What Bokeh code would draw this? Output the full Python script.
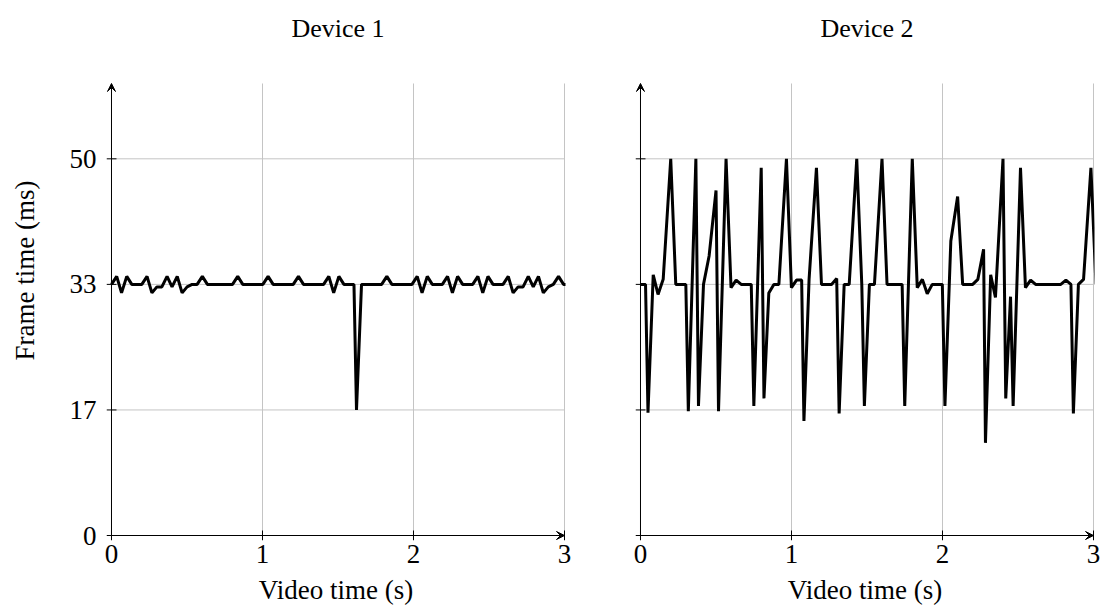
import numpy as np
from bokeh.plotting import figure
from bokeh.layouts import row
from bokeh.models import (ColumnDataSource, Arrow, VeeHead, Range1d, Label,
                          NumeralTickFormatter)
from bokeh.embed import file_html
from bokeh.resources import INLINE

# ---- data (frame durations in ms) ----
TITLES = ["Device 1", "Device 2"]
X_LABEL = "Video time (s)"
Y_LABEL = "Frame time (ms)"
X_TICKS = [0, 1, 2, 3]
Y_TICKS = [0, 16.667, 33.333, 50]
X_MAX = 3
Y_MAX = 60

DEV1_MS = [
    33.33, 34.4, 32.2, 34.4, 33.33, 33.33, 33.33, 34.4, 32.2, 33.0,
    33.0, 34.4, 33.0, 34.4, 32.2, 33.0, 33.33, 33.33, 34.4, 33.33,
    33.33, 33.33, 33.33, 33.33, 33.33, 34.4, 33.33, 33.33, 33.33, 33.33,
    33.33, 34.4, 33.33, 33.33, 33.33, 33.33, 33.33, 34.4, 33.33, 33.33,
    33.33, 33.33, 33.33, 34.4, 32.2, 34.4, 33.33, 33.33, 33.33, 16.67,
    33.33, 33.33, 33.33, 33.33, 33.33, 34.4, 33.33, 33.33, 33.33, 33.33,
    33.33, 34.4, 32.2, 34.4, 33.33, 33.33, 33.33, 34.4, 32.2, 34.4,
    33.33, 33.33, 33.33, 34.4, 32.2, 34.4, 33.33, 33.33, 33.33, 34.4,
    32.2, 33.0, 33.0, 34.4, 33.0, 34.4, 32.2, 33.0, 33.33, 34.4,
    33.33, 33.33,
]

DEV2_MS = [
    33.33, 33.33, 16.3, 34.6, 32.0, 34.0, 50.0, 33.33, 33.33, 33.33,
    16.5, 50.0, 17.2, 33.33, 37.1, 45.8, 16.5, 50.0, 32.9, 33.9,
    33.33, 33.33, 33.33, 17.2, 48.8, 18.2, 32.2, 33.33, 33.33, 50.0,
    32.9, 33.9, 33.9, 15.2, 34.0, 48.8, 33.33, 33.33, 33.33, 34.1,
    16.2, 33.33, 33.33, 50.0, 33.33, 17.2, 33.33, 33.33, 50.0, 33.33,
    33.33, 33.33, 33.33, 17.2, 50.0, 32.9, 34.0, 32.1, 33.33, 33.33,
    33.33, 17.2, 39.1, 45.0, 33.33, 33.33, 33.33, 34.0, 38.0, 12.3,
    34.6, 31.6, 50.0, 18.2, 31.7, 17.2, 48.8, 32.9, 33.9, 33.33,
    33.33, 33.33, 33.33, 33.33, 33.33, 33.9, 33.33, 16.2, 33.33, 34.0,
    48.8, 33.33,
]

FONT = "Liberation Serif"
GRID = "#c4c4c4"

# ---- layout constants (pixels) ----
XS = 151.1          # px per second
YS = 7.535          # px per ms
PAD_L = 5           # room left of / below the axes for ticks and arrow heads
PAD_R = 1
TOP = 83            # room above y = Y_MAX for the title
TICK = 5


def video_time(ms):
    # each point sits at the end of its frame: time = running sum of frame durations
    ms = np.asarray(ms, dtype=float)
    return np.concatenate([[0.0], np.cumsum(ms[1:])]) / 1000.0


def panel(title, ms, first, min_left, min_right):
    fw = int(round(XS * X_MAX)) + PAD_L + PAD_R
    fh = int(round(YS * Y_MAX)) + PAD_L + TOP
    x0, x1 = -PAD_L / XS, X_MAX + PAD_R / XS
    y0, y1 = -PAD_L / YS, Y_MAX + TOP / YS
    p = figure(frame_width=fw, frame_height=fh,
               x_range=Range1d(x0, x1), y_range=Range1d(y0, y1),
               output_backend="svg", toolbar_location=None,
               min_border_left=min_left, min_border_right=min_right,
               min_border_top=0, min_border_bottom=10)
    p.outline_line_color = None
    p.background_fill_color = "white"
    p.border_fill_color = "white"
    p.xgrid.visible = False
    p.ygrid.visible = False

    for ax in (p.xaxis[0], p.yaxis[0]):
        ax.axis_line_color = None
        ax.major_tick_in = 0
        ax.major_tick_out = 0
        ax.major_tick_line_color = None
        ax.minor_tick_line_color = None
        ax.major_label_text_font = FONT
        ax.major_label_text_font_size = "27px"
        ax.major_label_text_color = "black"
        ax.axis_label_text_font = FONT
        ax.axis_label_text_font_size = "27px"
        ax.axis_label_text_font_style = "normal"
        ax.axis_label_text_color = "black"

    p.xaxis.ticker = X_TICKS
    p.xaxis.major_label_standoff = 4
    p.xaxis.axis_label = X_LABEL
    p.xaxis.axis_label_standoff = 9
    p.yaxis.ticker = Y_TICKS
    if first:
        p.yaxis.formatter = NumeralTickFormatter(format="0")
        p.yaxis.major_label_standoff = 10
        p.yaxis.axis_label = Y_LABEL
        p.yaxis.axis_label_standoff = 27
    else:
        p.yaxis.visible = False

    # grid lines, limited to the axis box
    n_x, n_y = len(X_TICKS), len(Y_TICKS)
    p.segment(x0=X_TICKS, y0=[0] * n_x, x1=X_TICKS, y1=[Y_MAX] * n_x,
              line_color=GRID, line_width=1)
    p.segment(x0=[0] * n_y, y0=Y_TICKS, x1=[X_MAX] * n_y, y1=Y_TICKS,
              line_color=GRID, line_width=1)

    src = ColumnDataSource(dict(t=video_time(ms), ms=ms))
    p.line("t", "ms", source=src, line_color="black", line_width=3.0, line_join="bevel")

    # tick marks crossing the axes
    p.segment(x0=X_TICKS, y0=[-TICK / YS] * n_x, x1=X_TICKS, y1=[TICK / YS] * n_x,
              line_color="black", line_width=1)
    p.segment(x0=[-TICK / XS] * n_y, y0=Y_TICKS, x1=[TICK / XS] * n_y, y1=Y_TICKS,
              line_color="black", line_width=1)

    head = dict(size=8, fill_color="black", line_color="black", line_width=1)
    p.add_layout(Arrow(end=VeeHead(**head), x_start=0, y_start=0,
                       x_end=X_MAX, y_end=0, line_color="black", line_width=1))
    p.add_layout(Arrow(end=VeeHead(**head), x_start=0, y_start=0,
                       x_end=0, y_end=Y_MAX, line_color="black", line_width=1))

    p.add_layout(Label(x=X_MAX / 2, y=Y_MAX + 55 / YS, text=title,
                       text_align="center", text_baseline="middle",
                       text_font=FONT, text_font_size="26px", text_color="black"))
    return p


p1 = panel(TITLES[0], DEV1_MS, True, 106, 17)
p2 = panel(TITLES[1], DEV2_MS, False, 53, 8)
layout = row(p1, p2)

open("out.html", "w").write(file_html(layout, INLINE))
